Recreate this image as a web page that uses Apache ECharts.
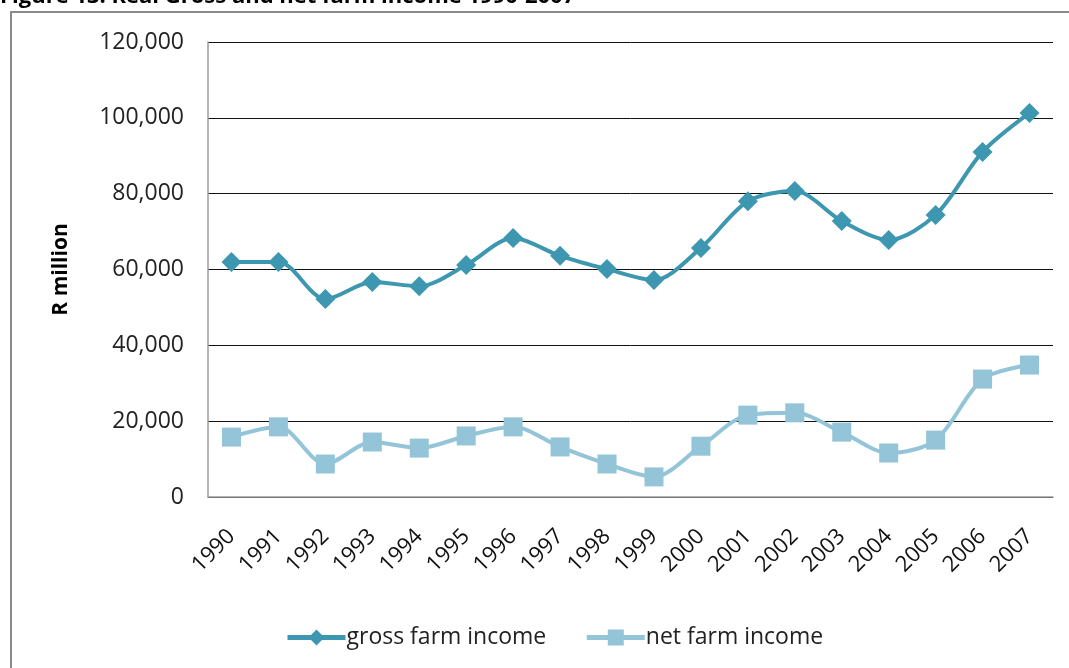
<!DOCTYPE html>
<html>
<head>
<meta charset="utf-8">
<script src="https://cdn.jsdelivr.net/npm/echarts@6/dist/echarts.min.js"></script>
<style>
  html, body { margin: 0; padding: 0; background: #fff; }
  #chart { width: 1069px; height: 668px; }
</style>
</head>
<body>
<div id="chart"></div>
<script>
var years = ['1990', '1991', '1992', '1993', '1994', '1995', '1996', '1997', '1998',
	'1999', '2000', '2001', '2002', '2003', '2004', '2005', '2006', '2007'];
var gross = [62000, 62000, 52200, 56700, 55600, 61200, 68300, 63600, 60100,
	57200, 65700, 78000, 80700, 72800, 67800, 74400, 91000, 101300];
var net = [15800, 18500, 8700, 14500, 12900, 16100, 18500, 13200, 8700,
	5300, 13400, 21600, 22200, 17100, 11600, 15000, 31100, 34800];
var yTicks = [0, 20000, 40000, 60000, 80000, 100000, 120000];

var font = 'Open Sans';
var chart = echarts.init(document.getElementById('chart'));
chart.setOption({
	animation: false,
	textStyle: { fontFamily: font },
	graphic: [
		{
			type: 'rect',
			shape: { x: 11, y: 12, width: 1100, height: 700 },
			style: { fill: 'none', stroke: '#8a8a8a', lineWidth: 2 }
		},
		{
			type: 'text',
			left: 0,
			top: -14,
			style: {
				text: 'Figure 13: Real Gross and net farm income 1990-2007',
				font: 'bold 22px "Open Sans"',
				fill: '#000'
			}
		}
	],
	grid: { left: 208, right: 16, top: 42, bottom: 171, containLabel: false },
	legend: {
		bottom: 14,
		left: 280,
		itemWidth: 58,
		itemHeight: 20,
		itemGap: 38,
		lineStyle: { width: 5 },
		textStyle: { fontSize: 23, color: '#222', fontFamily: font, padding: [0, 0, 0, -4] },
		data: ['gross farm income', 'net farm income']
	},
	xAxis: {
		type: 'category',
		data: years,
		boundaryGap: true,
		axisLine: { lineStyle: { color: '#9a9a9a', width: 1.5 } },
		axisTick: { show: false },
		axisLabel: { rotate: 45, fontSize: 22, color: '#111', margin: 36, interval: 0 }
	},
	yAxis: {
		type: 'value',
		min: 0,
		max: 120000,
		interval: 20000,
		name: 'R million',
		nameLocation: 'middle',
		nameGap: 136,
		nameTextStyle: { fontSize: 21, fontWeight: 'bold', color: '#000' },
		axisLine: { show: true, lineStyle: { color: '#9a9a9a', width: 1.5 } },
		axisTick: { show: false },
		splitLine: { lineStyle: { color: '#111', width: 1 } },
		axisLabel: {
			fontSize: 23,
			color: '#222',
			margin: 24,
			formatter: function (v) {
				return yTicks.indexOf(v) >= 0 ? v.toLocaleString('en-US') : '';
			}
		}
	},
	series: [
		{
			name: 'gross farm income',
			type: 'line',
			data: gross,
			smooth: 0.3,
			symbol: 'diamond',
			symbolSize: 20,
			itemStyle: { color: '#3d97b0' },
			lineStyle: { color: '#3d97b0', width: 4 }
		},
		{
			name: 'net farm income',
			type: 'line',
			data: net,
			smooth: 0.3,
			symbol: 'rect',
			symbolSize: 19,
			itemStyle: { color: '#93c4d7' },
			lineStyle: { color: '#93c4d7', width: 4 }
		}
	]
});
</script>
</body>
</html>
